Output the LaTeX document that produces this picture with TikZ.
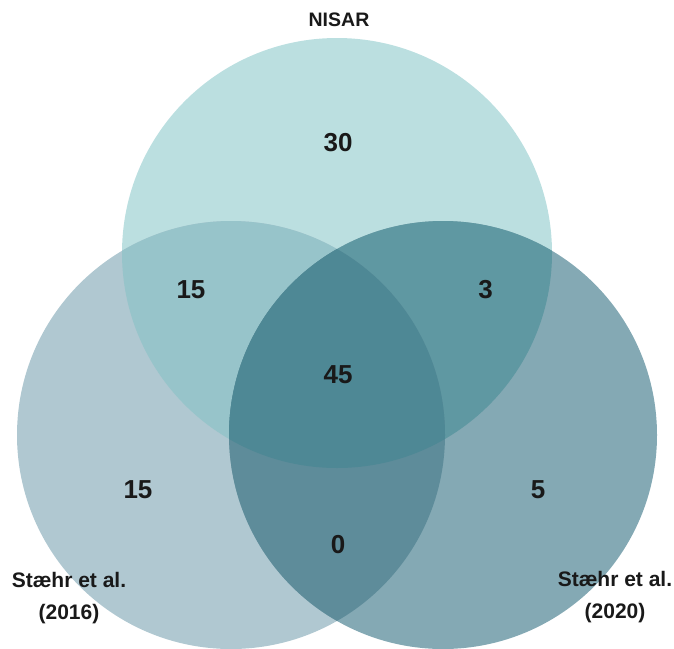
\documentclass[tikz,border=0pt]{standalone}
\usepackage{fontspec}
\setmainfont{Liberation Sans}
\definecolor{topc}{HTML}{BBDFE0}
\definecolor{leftc}{HTML}{B0C8D1}
\definecolor{rightc}{HTML}{84A9B4}
\definecolor{tlc}{HTML}{97C4CA}
\definecolor{trc}{HTML}{5F98A2}
\definecolor{lrc}{HTML}{5E8C9A}
\definecolor{centc}{HTML}{4E8895}
\tikzset{
  num/.style={font=\fontsize{26}{30}\selectfont\bfseries, text=black!90, inner sep=0pt},
  setlabel/.style={font=\fontsize{21}{32}\selectfont\bfseries, text=black!90, align=center, inner sep=0pt},
  toplabel/.style={font=\fontsize{19.5}{24}\selectfont\bfseries, text=black!90, inner sep=0pt}
}
\begin{document}
\begin{tikzpicture}[x=1pt,y=-1pt]
\useasboundingbox (0,0) rectangle (674,648);
\coordinate (cT) at (337,253);
\coordinate (cL) at (231,435);
\coordinate (cR) at (443,435);
\def\rT{215pt}
\def\rS{214pt}
% base circles
\fill[topc] (cT) circle[radius=\rT];
\fill[leftc] (cL) circle[radius=\rS];
\fill[rightc] (cR) circle[radius=\rS];
% pairwise overlaps
\begin{scope}
  \clip (cT) circle[radius=\rT];
  \fill[tlc] (cL) circle[radius=\rS];
  \fill[trc] (cR) circle[radius=\rS];
\end{scope}
\begin{scope}
  \clip (cL) circle[radius=\rS];
  \fill[lrc] (cR) circle[radius=\rS];
\end{scope}
% triple overlap
\begin{scope}
  \clip (cT) circle[radius=\rT];
  \clip (cL) circle[radius=\rS];
  \fill[centc] (cR) circle[radius=\rS];
\end{scope}
% labels
\node[toplabel] (nisar) at (339,19.5) {NISAR};
\node[setlabel] (s2016) at (69,598) {Stæhr et al.\\(2016)};
\node[setlabel] (s2020) at (615,597) {Stæhr et al.\\(2020)};
% counts
\node[num] (n30) at (338,142.5) {30};
\node[num] (n15a) at (191,289.5) {15};
\node[num] (n3) at (485.5,290) {3};
\node[num] (n45) at (338,375) {45};
\node[num] (n15b) at (138,490) {15};
\node[num] (n5) at (538,490) {5};
\node[num] (n0) at (338,545) {0};
\end{tikzpicture}
\end{document}
